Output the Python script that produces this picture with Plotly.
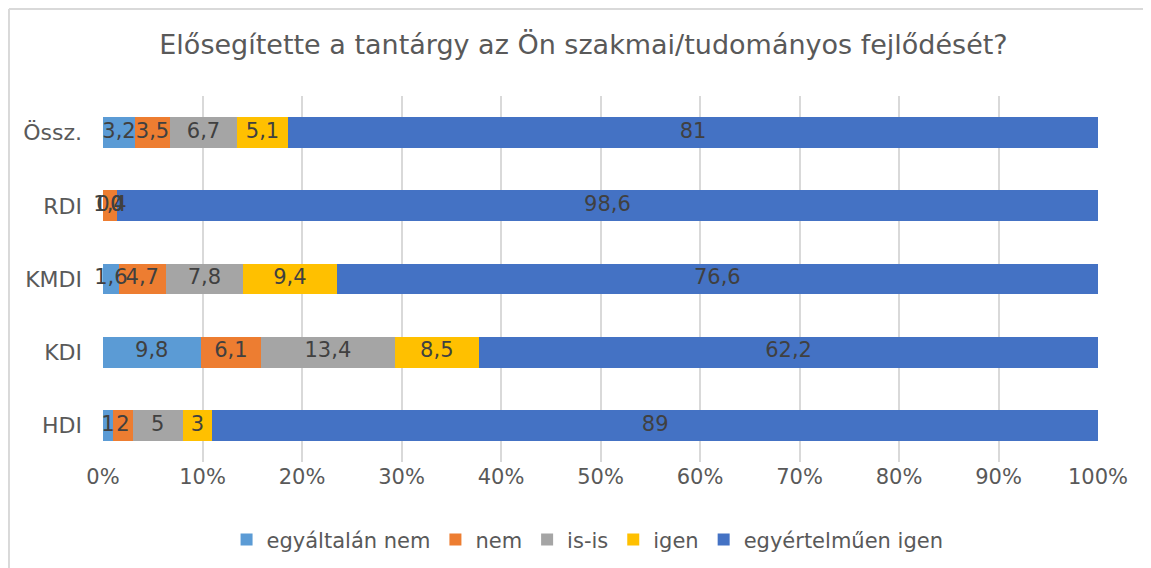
import numpy as np
import plotly.graph_objects as go

categories = ["HDI", "KDI", "KMDI", "RDI", "Össz."]
series_names = ["egyáltalán nem", "nem", "is-is", "igen", "egyértelműen igen"]
egyaltalan_nem = [1, 9.8, 1.6, 0, 3.2]
nem = [2, 6.1, 4.7, 1.4, 3.5]
is_is = [5, 13.4, 7.8, 0, 6.7]
igen = [3, 8.5, 9.4, 0, 5.1]
egyertelmuen_igen = [89, 62.2, 76.6, 98.6, 81]
colors = ["#5B9BD5", "#ED7D31", "#A5A5A5", "#FFC000", "#4472C4"]
tick_vals = [0, 10, 20, 30, 40, 50, 60, 70, 80, 90, 100]
tick_text = [f"{v}%" for v in tick_vals]
title = "Elősegítette a tantárgy az Ön szakmai/tudományos fejlődését?"

series = [egyaltalan_nem, nem, is_is, igen, egyertelmuen_igen]
FONT = "DejaVu Sans"

fig = go.Figure()
for name, vals, col in zip(series_names, series, colors):
    fig.add_trace(go.Bar(
        y=categories, x=vals, name=name, orientation="h",
        marker=dict(color=col, line=dict(width=0)),
        hoverinfo="x+y+name",
    ))

# data labels, positioned at normalized segment centers
arr = np.array(series, dtype=float)
tot = arr.sum(axis=0)
cum = np.cumsum(arr, axis=0) / tot * 100
start = cum - arr / tot * 100
mid = (cum + start) / 2
lx, ly, lt = [], [], []
for i in range(arr.shape[0]):
    for j in range(arr.shape[1]):
        lx.append(mid[i, j])
        ly.append(categories[j])
        lt.append(f"{series[i][j]:g}".replace(".", ","))
fig.add_trace(go.Scatter(
    x=lx, y=ly, text=lt, mode="text", showlegend=False, hoverinfo="skip",
    cliponaxis=False,
    textfont=dict(family=FONT, size=21, color="#404040"),
))

border = dict(xref="paper", yref="paper", line=dict(color="#D9D9D9", width=2),
              layer="below", type="line")
fig.update_layout(
    barmode="stack", barnorm="percent", bargap=0.58,
    width=1151, height=568,
    margin=dict(l=95, r=61, t=88, b=114, autoexpand=False),
    paper_bgcolor="white", plot_bgcolor="white",
    font=dict(family=FONT, color="#595959"),
    title=dict(text=title, x=0.5, xanchor="center", y=1 - 37 / 568, yref="container",
               yanchor="middle",
               font=dict(family=FONT, size=27, color="#595959")),
    xaxis=dict(range=[0, 100], tickvals=tick_vals, ticktext=tick_text,
               showgrid=True, gridcolor="#D9D9D9", gridwidth=2, zeroline=False,
               tickfont=dict(family=FONT, size=21, color="#595959"), ticks="",
               automargin=False, fixedrange=True),
    yaxis=dict(tickfont=dict(family=FONT, size=22, color="#595959"), ticks="",
               ticklabelstandoff=20, categoryorder="array", categoryarray=categories,
               automargin=False),
    legend=dict(orientation="h", x=0.487, xanchor="center", y=-0.213, yanchor="middle",
                font=dict(family=FONT, size=21, color="#595959"),
                traceorder="normal", itemwidth=30),
    shapes=[
        dict(border, x0=-0.0945, x1=1.1, y0=1.2377, y1=1.2377),
        dict(border, x0=-0.0945, x1=-0.0945, y0=-0.4, y1=1.2377),
    ],
)
fig.write_html("out.html")
